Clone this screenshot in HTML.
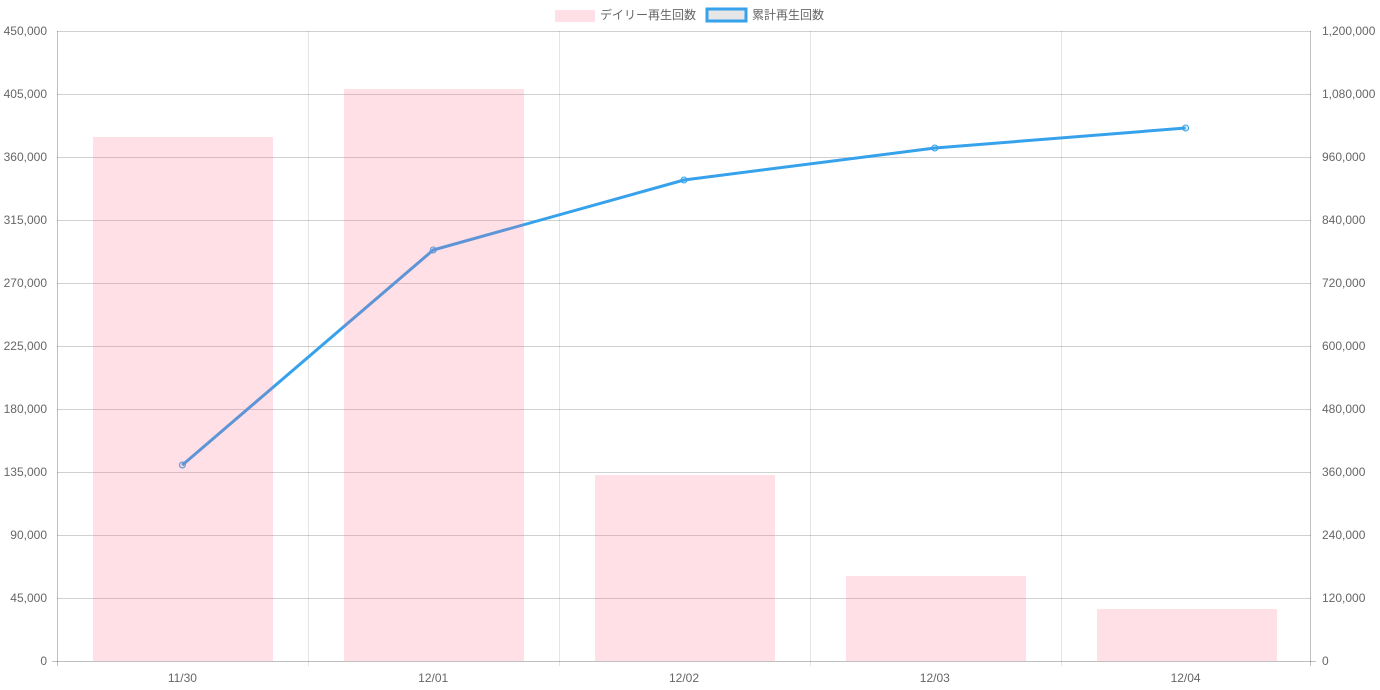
<!DOCTYPE html><html><head><meta charset="utf-8"><style>body{margin:0;background:#fff}svg{display:block}text{font-family:"Liberation Sans","Noto Sans CJK JP",sans-serif;font-size:12px;fill:#666}</style></head><body>
<svg width="1380" height="690" xmlns="http://www.w3.org/2000/svg">
<g stroke="rgba(0,0,0,0.18)" stroke-width="1">
<line x1="57" y1="31.5" x2="1311" y2="31.5"/><line x1="57" y1="94.5" x2="1311" y2="94.5"/><line x1="57" y1="157.5" x2="1311" y2="157.5"/><line x1="57" y1="220.5" x2="1311" y2="220.5"/><line x1="57" y1="283.5" x2="1311" y2="283.5"/><line x1="57" y1="346.5" x2="1311" y2="346.5"/><line x1="57" y1="409.5" x2="1311" y2="409.5"/><line x1="57" y1="472.5" x2="1311" y2="472.5"/><line x1="57" y1="535.5" x2="1311" y2="535.5"/><line x1="57" y1="598.5" x2="1311" y2="598.5"/>
<line x1="52" y1="661.5" x2="1316" y2="661.5" stroke="rgba(0,0,0,0.25)"/>
<line x1="57.5" y1="31" x2="57.5" y2="666" stroke="rgba(0,0,0,0.25)"/><line x1="1310.5" y1="31" x2="1310.5" y2="666" stroke="rgba(0,0,0,0.25)"/>
<line x1="308.5" y1="31" x2="308.5" y2="666" stroke="rgba(0,0,0,0.1)"/><line x1="559.5" y1="31" x2="559.5" y2="666" stroke="rgba(0,0,0,0.1)"/><line x1="810.5" y1="31" x2="810.5" y2="666" stroke="rgba(0,0,0,0.1)"/><line x1="1061.5" y1="31" x2="1061.5" y2="666" stroke="rgba(0,0,0,0.1)"/>
</g>
<polyline points="182.4,465 433.2,250 684,180 934.8,148 1185.6,128" fill="none" stroke="#36a2eb" stroke-width="3" stroke-linejoin="round"/>
<g fill="rgba(54,162,235,0.2)" stroke="#36a2eb"><circle cx="182.4" cy="465" r="3"/><circle cx="433.2" cy="250" r="3"/><circle cx="684" cy="180" r="3"/><circle cx="934.8" cy="148" r="3"/><circle cx="1185.6" cy="128" r="3"/></g>
<g fill="rgba(255,99,132,0.2)">
<rect x="93" y="137" width="180" height="524"/><rect x="344" y="89" width="180" height="572"/><rect x="595" y="475" width="180" height="186"/><rect x="846" y="576" width="180" height="85"/><rect x="1097" y="609" width="180" height="52"/>
</g>
<g text-anchor="end">
<text x="47" y="35">450,000</text><text x="47" y="98">405,000</text><text x="47" y="161">360,000</text><text x="47" y="224">315,000</text><text x="47" y="287">270,000</text><text x="47" y="350">225,000</text><text x="47" y="413">180,000</text><text x="47" y="476">135,000</text><text x="47" y="539">90,000</text><text x="47" y="602">45,000</text><text x="47" y="665">0</text>
</g>
<g>
<text x="1322" y="35">1,200,000</text><text x="1322" y="98">1,080,000</text><text x="1322" y="161">960,000</text><text x="1322" y="224">840,000</text><text x="1322" y="287">720,000</text><text x="1322" y="350">600,000</text><text x="1322" y="413">480,000</text><text x="1322" y="476">360,000</text><text x="1322" y="539">240,000</text><text x="1322" y="602">120,000</text><text x="1322" y="665">0</text>
</g>
<g text-anchor="middle"><text x="182.4" y="682">11/30</text><text x="433.2" y="682">12/01</text><text x="684" y="682">12/02</text><text x="934.8" y="682">12/03</text><text x="1185.6" y="682">12/04</text></g>
<rect x="555" y="10" width="40" height="12" fill="rgba(255,99,132,0.2)"/>
<text x="600" y="19">デイリー再生回数</text>
<rect x="707" y="9" width="39" height="12" fill="#e6e6e6" stroke="#36a2eb" stroke-width="3"/>
<text x="752" y="19">累計再生回数</text>
</svg></body></html>
